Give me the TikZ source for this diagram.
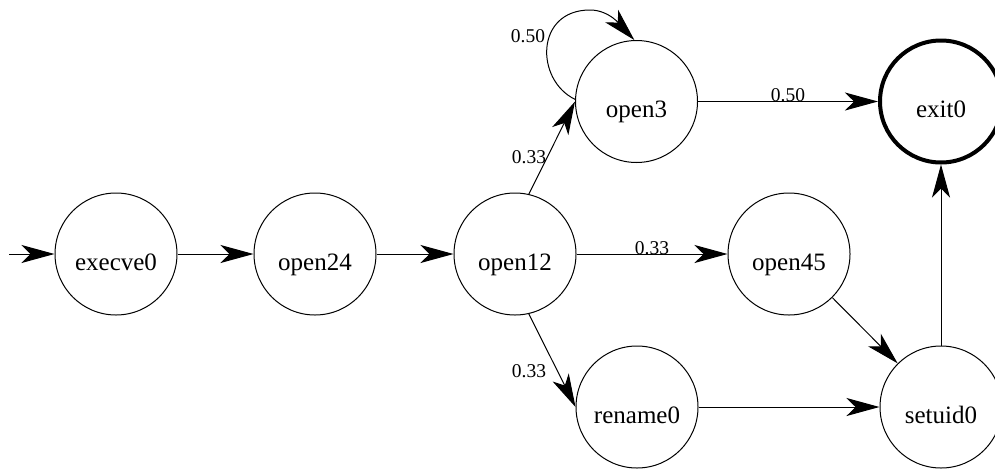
\documentclass[tikz,border=0pt]{standalone}
\usepackage{fontspec}
\setmainfont{Liberation Serif}
\usetikzlibrary{arrows.meta}
\begin{document}
\begin{tikzpicture}[x=1pt,y=-1pt,
  state/.style={circle, draw, line width=1pt, minimum size=122pt, inner sep=0pt,
    font=\fontsize{25}{30}\selectfont, text height=32pt, text depth=0pt},
  final/.style={state, line width=4pt},
  edge/.style={line width=1pt, -{Stealth[length=33pt,width=18pt,inset=9pt]}},
  prob/.style={font=\fontsize{19.5}{23}\selectfont, inner sep=0pt, anchor=base}]
\useasboundingbox (0,0) rectangle (995,469);

% states
\node[state] (execve0) at (116,254) {execve0};
\node[state] (open24)  at (315,254) {open24};
\node[state] (open12)  at (515,254) {open12};
\node[state] (open3)   at (636.5,101.5) {open3};
\node[final] (exit0)   at (941,101.5) {exit0};
\node[state] (open45)  at (789,254) {open45};
\node[state] (rename0) at (637,407) {rename0};
\node[state] (setuid0) at (941,407) {setuid0};
\coordinate (start) at (9,254);

% transitions
\draw[edge] (start) -- (execve0);
\draw[edge] (execve0) -- (open24);
\draw[edge] (open24) -- (open12);
\draw[edge] (open12.77) -- (open3.180);
\draw[edge] (open12) -- (open45);
\draw[edge] (open12.-77) -- (rename0.180);
\draw[edge] (open3.178) .. controls (535,80) and (535,10) .. (590,10)
  .. controls (610,10) and (622,27) .. (open3.92);
\draw[edge] (open3) -- (exit0);
\draw[edge] (open45) -- (setuid0);
\draw[edge] (rename0) -- (setuid0);
\draw[edge] (setuid0) -- (exit0);

% transition probabilities
\node[prob] (p1) at (529,163) {0.33};
\node[prob] (p2) at (528,42) {0.50};
\node[prob] (p3) at (529,377) {0.33};
\node[prob] (p4) at (652,254) {0.33};
\node[prob] (p5) at (788,101) {0.50};
\end{tikzpicture}
\end{document}
